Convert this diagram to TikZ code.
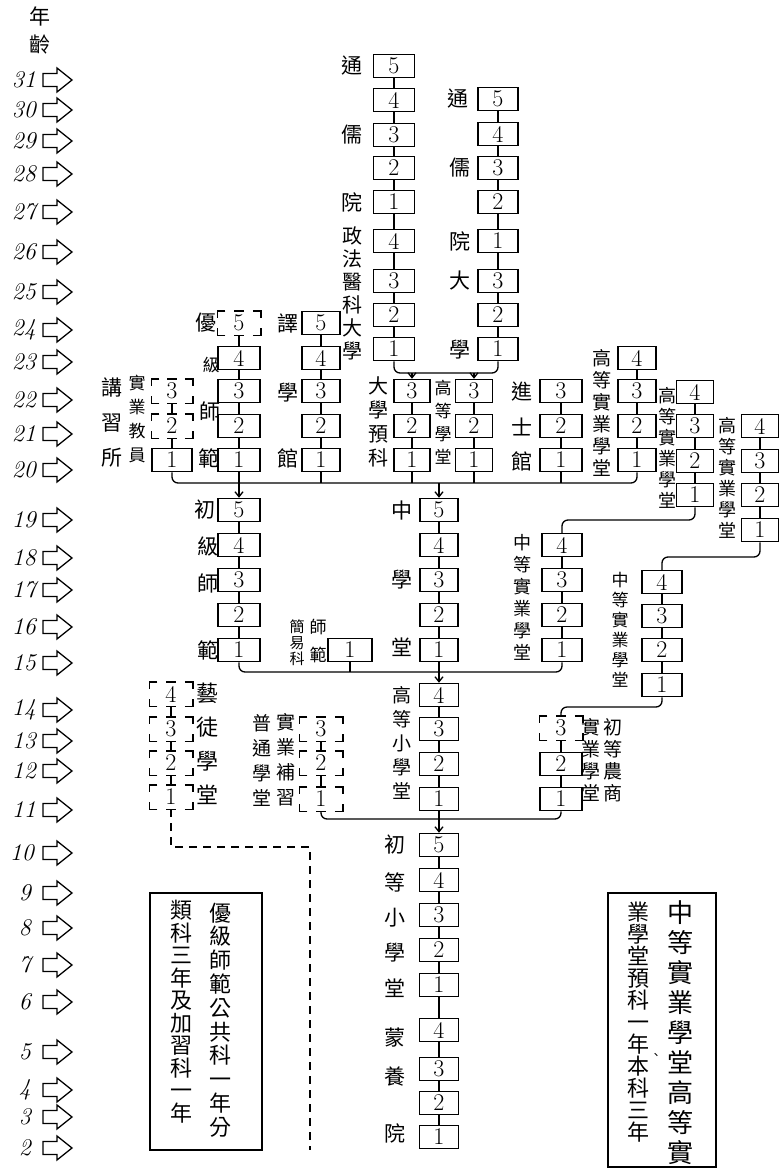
\documentclass[tikz,border=0pt]{standalone}
\usepackage{fontspec}
\newfontfamily\cjk{Noto Sans CJK TC}
\usetikzlibrary{arrows.meta}
\begin{document}
\begin{tikzpicture}[x=1pt,y=-1pt,
  bx/.style={draw, line width=1.5pt, minimum width=40pt, minimum height=23pt, inner sep=0pt, font=\fontsize{24}{24}\selectfont},
  dbx/.style={bx, draw=none},
  cl/.style={line width=1.3pt},
  arr/.style={line width=1.3pt, -{Straight Barb[length=5pt,width=8pt]}},
  lab/.style={font=\cjk\fontsize{21}{24}\selectfont, inner sep=0pt},
  vl/.style 2 args={font=\cjk\fontsize{#1}{#2}\selectfont, inner sep=0pt, align=center},
  agen/.style={font=\itshape\fontsize{24}{24}\selectfont, inner sep=0pt, anchor=east},
  agearr/.style={line width=1.3pt, line join=miter},
  dsh/.style={line width=1.3pt, dash pattern=on 8pt off 6pt}]
\useasboundingbox (0,0) rectangle (781,1171);

% ---------- age column ----------
\node[lab] (hdr1) at (40,16) {年};
\node[lab] (hdr2) at (40,45) {齡};
\foreach \a/\y/\x in {31/80/36,30/110/36,29/141/36,28/174/36,27/212/36,26/252/36,25/292/36,24/330/36,23/362/36,22/400/36,21/434/36,20/470/36,19/520/36,18/558/36,17/590/36,16/627/36,15/663/36,14/710/36,13/741/36,12/771/36,11/810/36,10/853/34,9/893/31,8/928/31,7/965/31,6/1002/31,5/1052/31,4/1090/31,3/1117/31,2/1148/31}{
  \node[agen] (age\a) at (\x,\y) {\a};
  \draw[agearr] (43,{\y-6.5}) -- (57,{\y-6.5}) -- (57,{\y-12}) -- (72,\y) -- (57,{\y+12}) -- (57,{\y+6.5}) -- (43,{\y+6.5}) -- cycle;
}

% ---------- top columns ----------
\node[bx, minimum width=41pt] (t5) at (394,66) {5};
\node[bx, minimum width=41pt] (t4) at (394,100) {4};
\node[bx, minimum width=41pt] (t3) at (394,135) {3};
\node[bx, minimum width=41pt] (t2) at (394,168) {2};
\node[bx, minimum width=41pt] (t1) at (394,202) {1};
\node[bx, minimum width=41pt] (f4) at (394,241) {4};
\node[bx, minimum width=41pt] (f3) at (394,281) {3};
\node[bx, minimum width=41pt] (f2) at (394,315) {2};
\node[bx, minimum width=41pt] (f1) at (394,349) {1};

\node[bx] (u5) at (498,99) {5};
\node[bx] (u4) at (498,134) {4};
\node[bx] (u3) at (498,168) {3};
\node[bx] (u2) at (498,202) {2};
\node[bx] (u1) at (498,241) {1};
\node[bx] (d3) at (498,281) {3};
\node[bx] (d2) at (498,315) {2};
\node[bx] (d1) at (498,349) {1};

\node[lab] (n1) at (352,66) {通};
\node[lab] (n2) at (352,135) {儒};
\node[lab] (n3) at (352,202) {院};
\node[vl={20}{23}] (n4) at (352,293) {政\\法\\醫\\科\\大\\學};
\node[lab] (n5) at (458,99) {通};
\node[lab] (n6) at (460,168) {儒};
\node[lab] (n7) at (460,241) {院};
\node[lab] (n8) at (460,281) {大};
\node[lab] (n9) at (460,350) {學};

% ---------- upper row ----------
\node[bx, minimum width=36pt] (p3) at (412,391) {3};
\node[bx, minimum width=36pt] (p2) at (412,426) {2};
\node[bx, minimum width=36pt] (p1) at (412,460) {1};
\node[bx, minimum width=37pt] (g3) at (474,391) {3};
\node[bx, minimum width=37pt] (g2) at (474,426) {2};
\node[bx, minimum width=37pt] (g1) at (474,460) {1};
\node[bx, minimum width=42pt] (j3) at (561,391) {3};
\node[bx, minimum width=42pt] (j2) at (561,426) {2};
\node[bx, minimum width=42pt] (j1) at (561,460) {1};
\node[bx, minimum width=38pt] (ha4) at (637,358) {4};
\node[bx, minimum width=38pt] (ha3) at (637,391) {3};
\node[bx, minimum width=38pt] (ha2) at (637,426) {2};
\node[bx, minimum width=38pt] (ha1) at (637,460) {1};
\node[bx, minimum width=37pt] (hb4) at (695,392) {4};
\node[bx, minimum width=37pt] (hb3) at (695,426) {3};
\node[bx, minimum width=37pt] (hb2) at (695,461) {2};
\node[bx, minimum width=37pt] (hb1) at (695,495) {1};
\node[bx, minimum width=37pt] (hc4) at (760,426) {4};
\node[bx, minimum width=37pt] (hc3) at (760,461) {3};
\node[bx, minimum width=37pt] (hc2) at (760,495) {2};
\node[bx, minimum width=37pt] (hc1) at (760,530) {1};
\node[dbx, minimum width=42pt] (y5) at (239,323) {5};
\node[bx, minimum width=42pt] (y4) at (239,358) {4};
\node[bx, minimum width=42pt] (y3) at (239,391) {3};
\node[bx, minimum width=42pt] (y2) at (239,426) {2};
\node[bx, minimum width=42pt] (y1) at (239,460) {1};
\node[dbx] (k3) at (172,391) {3};
\node[dbx] (k2) at (172,426) {2};
\node[bx] (k1) at (172,460) {1};
\node[bx, minimum width=38pt] (e5) at (321,323) {5};
\node[bx, minimum width=38pt] (e4) at (321,358) {4};
\node[bx, minimum width=38pt] (e3) at (321,391) {3};
\node[bx, minimum width=38pt] (e2) at (321,426) {2};
\node[bx, minimum width=38pt] (e1) at (321,460) {1};

\node[lab] (n10) at (206,323) {優};
\node[vl={17}{17}] (n11) at (211,365) {級};
\node[lab] (n12) at (210,411) {師};
\node[lab] (n13) at (209,458) {範};
\node[vl={21}{35}] (n14) at (112,422) {講\\習\\所};
\node[vl={17}{24}] (n15) at (137,419) {實\\業\\教\\員};
\node[lab] (n16) at (288,323) {譯};
\node[lab] (n17) at (288,393) {學};
\node[lab] (n18) at (288,458) {館};
\node[vl={20}{24}] (n19) at (378,422) {大\\學\\預\\科};
\node[vl={17}{23}] (n20) at (443,422) {高\\等\\學\\堂};
\node[lab] (n21) at (522,392) {進};
\node[lab] (n22) at (522,427) {士};
\node[lab] (n23) at (522,461) {館};
\node[vl={19}{22}] (n24) at (602,413) {高\\等\\實\\業\\學\\堂};
\node[vl={18}{21}] (n25) at (667,448) {高\\等\\實\\業\\學\\堂};
\node[vl={18}{21}] (n26) at (727,478) {高\\等\\實\\業\\學\\堂};

% ---------- middle row ----------
\node[bx, minimum width=42pt] (c5) at (239,510) {5};
\node[bx, minimum width=42pt] (c4) at (239,545) {4};
\node[bx, minimum width=42pt] (c3) at (239,580) {3};
\node[bx, minimum width=42pt] (c2) at (239,615) {2};
\node[bx, minimum width=42pt] (c1) at (239,650) {1};
\node[bx, minimum width=38pt] (z5) at (439,510) {5};
\node[bx, minimum width=38pt] (z4) at (439,545) {4};
\node[bx, minimum width=38pt] (z3) at (439,580) {3};
\node[bx, minimum width=38pt] (z2) at (439,615) {2};
\node[bx, minimum width=38pt] (z1) at (439,650) {1};
\node[bx, minimum width=44pt] (s1) at (350,650) {1};
\node[bx] (ma4) at (562,545) {4};
\node[bx] (ma3) at (562,580) {3};
\node[bx] (ma2) at (562,615) {2};
\node[bx] (ma1) at (562,650) {1};
\node[bx] (mb4) at (662,582) {4};
\node[bx] (mb3) at (662,616) {3};
\node[bx] (mb2) at (662,650) {2};
\node[bx] (mb1) at (662,685) {1};

\node[lab] (n27) at (205,510) {初};
\node[lab] (n28) at (208,546) {級};
\node[lab] (n29) at (208,583) {師};
\node[lab] (n30) at (208,650) {範};
\node[lab] (n31) at (402,510) {中};
\node[lab] (n32) at (402,580) {學};
\node[lab] (n33) at (402,647) {堂};
\node[vl={15}{16}] (n34) at (297,643) {簡\\易\\科};
\node[vl={17}{28}] (n35) at (318,641) {師\\範};
\node[vl={18}{22}] (n36) at (522,597) {中\\等\\實\\業\\學\\堂};
\node[vl={17}{20}] (n37) at (620,630) {中\\等\\實\\業\\學\\堂};

% ---------- lower row ----------
\node[bx, minimum width=39pt] (hs4) at (439,695) {4};
\node[bx, minimum width=39pt] (hs3) at (439,729) {3};
\node[bx, minimum width=39pt] (hs2) at (439,764) {2};
\node[bx, minimum width=39pt] (hs1) at (439,799) {1};
\node[dbx, minimum width=42pt] (cs3) at (561,728) {3};
\node[bx, minimum width=42pt] (cs2) at (561,764) {2};
\node[bx, minimum width=42pt] (cs1) at (561,799) {1};
\node[dbx, minimum width=42pt] (bx3) at (321,729) {3};
\node[dbx, minimum width=42pt] (bx2) at (321,763) {2};
\node[dbx, minimum width=42pt] (bx1) at (321,799) {1};
\node[dbx, minimum width=42pt] (yt4) at (171,694) {4};
\node[dbx, minimum width=42pt] (yt3) at (171,729) {3};
\node[dbx, minimum width=42pt] (yt2) at (171,763) {2};
\node[dbx, minimum width=42pt] (yt1) at (171,797) {1};

\node[vl={22}{34}] (n38) at (207,744) {藝\\徒\\學\\堂};
\node[vl={19}{25}] (n39) at (286,760) {實\\業\\補\\習};
\node[vl={19}{25}] (n40) at (262,760) {普\\通\\學\\堂};
\node[vl={19}{24}] (n41) at (402,743) {高\\等\\小\\學\\堂};
\node[vl={19}{22}] (n42) at (613,760) {初\\等\\農\\商};
\node[vl={19}{22}] (n43) at (591,760) {實\\業\\學\\堂};

% ---------- bottom column ----------
\node[bx, minimum width=39pt] (cx5) at (439,845) {5};
\node[bx, minimum width=39pt] (cx4) at (439,880) {4};
\node[bx, minimum width=39pt] (cx3) at (439,915) {3};
\node[bx, minimum width=39pt] (cx2) at (439,950) {2};
\node[bx, minimum width=39pt] (cx1) at (439,985) {1};
\node[bx, minimum width=39pt] (my4) at (439,1030) {4};
\node[bx, minimum width=39pt] (my3) at (439,1069) {3};
\node[bx, minimum width=39pt] (my2) at (439,1103) {2};
\node[bx, minimum width=39pt] (my1) at (439,1137) {1};

\node[lab] (n44) at (395,845) {初};
\node[lab] (n45) at (395,882) {等};
\node[lab] (n46) at (395,918) {小};
\node[lab] (n47) at (395,953) {學};
\node[lab] (n48) at (395,988) {堂};
\node[lab] (n49) at (395,1038) {蒙};
\node[lab] (n50) at (395,1077) {養};
\node[lab] (n51) at (395,1133) {院};

% ---------- note frames ----------
\node[draw, line width=1.3pt, minimum width=112pt, minimum height=257pt, inner sep=0pt] (note1) at (206,1021.5) {};
\node[vl={22}{23.8}] (note1a) at (220,1020) {優\\級\\師\\範\\公\\共\\科\\一\\年\\分};
\node[vl={22}{22.5}] (note1b) at (181,1011.5) {類\\科\\三\\年\\及\\加\\習\\科\\一\\年};
\node[draw, line width=1.3pt, minimum width=108pt, minimum height=274pt, inner sep=0pt] (note2) at (662,1030) {};
\node[vl={26}{30}] (note2a) at (680,1033) {中\\等\\實\\業\\學\\堂\\高\\等\\實};
\node[vl={22}{22}] (note2b) at (638,1022.5) {業\\學\\堂\\預\\科\\一\\年\\本\\科\\三\\年};
\node[vl={12}{12}] (note2c) at (656,1056) {、};

% ---------- dashed box brackets ----------
\foreach \n in {y5,k3,k2,bx3,bx2,bx1,yt4,yt3,yt2,yt1,cs3}{
  \draw[line width=1.5pt] ([xshift=8pt]\n.north west) -- (\n.north west) -- ([yshift=-7pt]\n.north west);
  \draw[line width=1.5pt] ([xshift=-8pt]\n.north east) -- (\n.north east) -- ([yshift=-7pt]\n.north east);
  \draw[line width=1.5pt] ([xshift=8pt]\n.south west) -- (\n.south west) -- ([yshift=7pt]\n.south west);
  \draw[line width=1.5pt] ([xshift=-8pt]\n.south east) -- (\n.south east) -- ([yshift=7pt]\n.south east);
  \draw[line width=1.5pt] ([xshift=-5pt]\n.north) -- ([xshift=5pt]\n.north);
  \draw[line width=1.5pt] ([xshift=-5pt]\n.south) -- ([xshift=5pt]\n.south);
}

% ---------- column links ----------
\foreach \a/\b in {t5/t4,t4/t3,t3/t2,t2/t1,t1/f4,f4/f3,f3/f2,f2/f1,
  u5/u4,u4/u3,u3/u2,u2/u1,u1/d3,d3/d2,d2/d1,
  p3/p2,p2/p1,g3/g2,g2/g1,j3/j2,j2/j1,
  ha4/ha3,ha3/ha2,ha2/ha1,hb4/hb3,hb3/hb2,hb2/hb1,hc4/hc3,hc3/hc2,hc2/hc1,
  y5/y4,y4/y3,y3/y2,y2/y1,k3/k2,k2/k1,e5/e4,e4/e3,e3/e2,e2/e1,
  c5/c4,c4/c3,c3/c2,c2/c1,z5/z4,z4/z3,z3/z2,z2/z1,
  ma4/ma3,ma3/ma2,ma2/ma1,mb4/mb3,mb3/mb2,mb2/mb1,
  hs4/hs3,hs3/hs2,hs2/hs1,cs3/cs2,cs2/cs1,bx3/bx2,bx2/bx1,yt4/yt3,yt3/yt2,yt2/yt1,
  cx5/cx4,cx4/cx3,cx3/cx2,cx2/cx1,cx1/my4,my4/my3,my3/my2,my2/my1}
  {\draw[cl] (\a.south) -- (\b.north);}

% ---------- merges ----------
\coordinate (m1) at (450,373);
\draw[cl, rounded corners=6pt] (f1.south) |- (m1) -| (d1.south);
\draw[arr] (p3.north |- m1) -- (p3.north);
\draw[arr] (g3.north |- m1) -- (g3.north);

\coordinate (m2) at (400,483);
\draw[cl, rounded corners=6pt] (k1.south) |- (m2) -| (ha1.south);
\draw[arr] (y1.south) -- (c5.north);
\foreach \n in {e1,p1,g1,j1} \draw[cl] (\n.south) -- (\n.south |- m2);
\draw[arr] (z5.north |- m2) -- (z5.north);

\coordinate (m3a) at (620,520);
\draw[cl, rounded corners=6pt] (hb1.south) |- (m3a) -| (ma4.north);
\coordinate (m3b) at (700,557);
\draw[cl, rounded corners=6pt] (hc1.south) |- (m3b) -| (mb4.north);

\coordinate (m4) at (400,672);
\draw[cl, rounded corners=6pt] (c1.south) |- (m4) -| (ma1.south);
\draw[cl] (s1.south) -- (s1.south |- m4);
\draw[arr] (z1.south) -- (hs4.north);

\coordinate (m5) at (600,707);
\draw[cl, rounded corners=6pt] (mb1.south) |- (m5) -| (cs3.north);

\coordinate (m6) at (440,819);
\draw[cl, rounded corners=6pt] (bx1.south) |- (m6) -| (cs1.south);
\draw[arr] (hs1.south) -- (cx5.north);

\coordinate (m7) at (250,847);
\coordinate (m8) at (310,1150);
\draw[dsh] (yt1.south) |- (m7) -| (m8);
\end{tikzpicture}
\end{document}
